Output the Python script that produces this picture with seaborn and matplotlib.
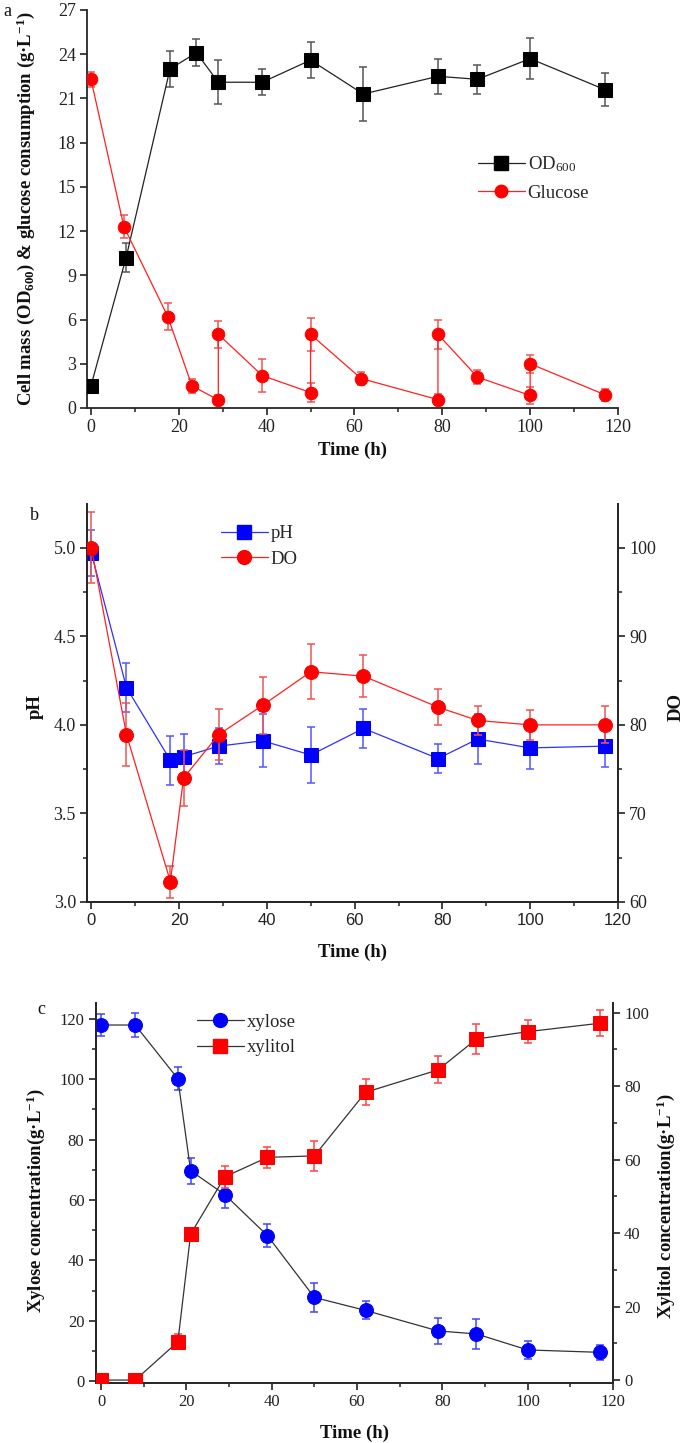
import numpy as np
import pandas as pd
import matplotlib
matplotlib.use("Agg")
import matplotlib.pyplot as plt
import seaborn as sns
from matplotlib.ticker import MultipleLocator
from matplotlib.lines import Line2D

# ---------------- data ----------------
# panel a
od_time = [0, 8, 18, 24, 29, 39, 50, 62, 79, 88, 100, 117]
od_val = [1.5, 10.2, 23.0, 24.1, 22.1, 22.1, 23.6, 21.3, 22.5, 22.3, 23.7, 21.6]
od_err = [0.2, 1.0, 1.2, 0.9, 1.5, 0.9, 1.2, 1.8, 1.2, 1.0, 1.4, 1.1]

glc_time = [0, 7.5, 17.5, 23, 29, 29, 39, 50, 50, 61.5, 79, 79, 88, 100, 100, 117]
glc_val = [22.3, 12.3, 6.2, 1.5, 0.55, 5.0, 2.2, 1.05, 5.0, 2.0, 0.57, 5.0, 2.1, 0.85, 3.0, 0.9]
glc_err = [0.5, 0.8, 0.9, 0.45, 0.3, 0.9, 1.1, 0.65, 1.1, 0.43, 0.4, 1.0, 0.45, 0.57, 0.6, 0.42]

# panel b
b_time = [0, 8, 18, 21, 29, 39, 50, 62, 79, 88, 100, 117]
ph_val = [4.97, 4.21, 3.80, 3.82, 3.88, 3.91, 3.83, 3.98, 3.81, 3.92, 3.87, 3.88]
ph_err = [0.13, 0.14, 0.14, 0.13, 0.10, 0.15, 0.16, 0.11, 0.08, 0.14, 0.12, 0.12]
do_val = [100, 78.9, 62.3, 74.0, 78.9, 82.2, 86.0, 85.5, 82.0, 80.5, 80.0, 80.0]
do_err = [4.0, 3.6, 1.8, 3.2, 2.9, 3.2, 3.1, 2.4, 2.0, 1.6, 1.7, 2.1]

# panel c
c_time = [0, 8, 18, 21, 29, 39, 50, 62, 79, 88, 100, 117]
xylose_val = [118, 118, 100.2, 69.7, 61.8, 48.2, 27.7, 23.4, 16.6, 15.6, 10.3, 9.5]
xylose_err = [3.6, 3.9, 3.9, 4.3, 4.4, 3.7, 4.7, 3.0, 4.4, 4.9, 3.0, 2.4]
xylitol_val = [0, 0, 10.4, 39.7, 55.3, 60.6, 61.0, 78.3, 84.4, 92.8, 94.8, 97.1]
xylitol_err = [0, 0, 2.0, 1.7, 3.0, 2.8, 4.0, 3.5, 3.7, 4.2, 3.1, 3.5]

# ---------------- style ----------------
sns.set_theme(style="ticks")
SERIF = ["Liberation Serif", "DejaVu Serif"]
plt.rcParams["font.family"] = SERIF
plt.rcParams["mathtext.fontset"] = "custom"
plt.rcParams["mathtext.rm"] = "Liberation Serif"
plt.rcParams["mathtext.bf"] = "Liberation Serif:bold"
plt.rcParams["mathtext.default"] = "regular"
plt.rcParams["axes.linewidth"] = 1.3
plt.rcParams["xtick.direction"] = "out"
plt.rcParams["ytick.direction"] = "out"

W, H = 685, 1443
fig = plt.figure(figsize=(W / 100, H / 100), dpi=100)


def rect(l, r, t, b):
    return [l / W, 1 - b / H, (r - l) / W, (b - t) / H]


def style_ticks(ax, size=12.5):
    ax.tick_params(axis="both", which="major", length=5, width=1.2, labelsize=size,
                   color="#222222", labelcolor="#222222", pad=3)
    ax.tick_params(axis="both", which="minor", length=3, width=1.1, color="#222222")


LBL = dict(fontsize=13.5, fontweight="bold", color="#111111")

# ================= panel a =================
axa = fig.add_axes(rect(87, 618, 10, 408))
axa.errorbar(od_time, od_val, yerr=od_err, fmt="none", ecolor="#555555",
             elinewidth=1.1, capsize=3, capthick=1.1, zorder=2)
axa.errorbar(glc_time, glc_val, yerr=glc_err, fmt="none", ecolor="#ee5555",
             elinewidth=1.1, capsize=3, capthick=1.1, zorder=2)
dfa_od = pd.DataFrame({"t": od_time, "v": od_val})
dfa_gl = pd.DataFrame({"t": glc_time, "v": glc_val})
sns.lineplot(data=dfa_od, x="t", y="v", ax=axa, sort=False, estimator=None,
             color="#222222", linewidth=0.9, marker="s", markersize=10.5,
             markeredgecolor="black", markerfacecolor="black", zorder=3)
sns.lineplot(data=dfa_gl, x="t", y="v", ax=axa, sort=False, estimator=None,
             color="#ff2020", linewidth=0.9, marker="o", markersize=9,
             markeredgecolor="red", markerfacecolor="red", zorder=3)
axa.set_xlim(-0.9, 120)
axa.set_ylim(0, 27)
axa.yaxis.set_major_locator(MultipleLocator(3))
axa.xaxis.set_major_locator(MultipleLocator(20))
axa.xaxis.set_minor_locator(MultipleLocator(10))
sns.despine(ax=axa)
style_ticks(axa, 13)
axa.set_xlabel("Time (h)", **LBL)
axa.set_ylabel("Cell mass (OD$_{600}$) & glucose consumption (g·L$^{-1}$)", **LBL)
axa.xaxis.set_label_coords(0.5, -0.085)
axa.yaxis.set_label_coords(-0.094, 0.5)
h_a = [Line2D([], [], color="#222222", lw=0.9, marker="s", ms=10.5, mfc="black", mec="black"),
       Line2D([], [], color="#ff2020", lw=0.9, marker="o", ms=9, mfc="red", mec="red")]
axa.legend(h_a, ["OD$_{600}$", "Glucose"], loc="center left",
           bbox_to_anchor=(478 / W, 1 - 178 / H), bbox_transform=fig.transFigure,
           frameon=False, fontsize=13.5, handlelength=2.5, handletextpad=0.15,
           borderpad=0, borderaxespad=0, labelspacing=0.55)
fig.text(3 / W, 1 - 12 / H, "a", fontsize=13, va="center", ha="left", color="#111111")

# ================= panel b =================
axb = fig.add_axes(rect(87, 618, 504, 902))
axb2 = axb.twinx()
axb.errorbar(b_time, ph_val, yerr=ph_err, fmt="none", ecolor="#5555ff",
             elinewidth=1.1, capsize=3, capthick=1.1, zorder=2)
axb2.errorbar(b_time, do_val, yerr=do_err, fmt="none", ecolor="#ee5555",
              elinewidth=1.1, capsize=3, capthick=1.1, zorder=2)
dfb = pd.DataFrame({"t": b_time, "ph": ph_val, "do": do_val})
sns.lineplot(data=dfb, x="t", y="ph", ax=axb, sort=False, estimator=None,
             color="#3030ff", linewidth=0.9, marker="s", markersize=9.5,
             markeredgecolor="blue", markerfacecolor="blue", zorder=3)
sns.lineplot(data=dfb, x="t", y="do", ax=axb2, sort=False, estimator=None,
             color="#ff2020", linewidth=0.9, marker="o", markersize=10,
             markeredgecolor="red", markerfacecolor="red", zorder=3)
axb.set_xlim(-1, 120)
axb.set_ylim(3.0, 5.247)
axb2.set_ylim(60, 104.94)
axb.yaxis.set_major_locator(MultipleLocator(0.5))
axb.yaxis.set_minor_locator(MultipleLocator(0.25))
axb.yaxis.set_major_formatter(matplotlib.ticker.FormatStrFormatter("%.1f"))
axb2.yaxis.set_major_locator(MultipleLocator(10))
axb2.yaxis.set_minor_locator(MultipleLocator(5))
axb.xaxis.set_major_locator(MultipleLocator(20))
axb.xaxis.set_minor_locator(MultipleLocator(10))
for ax in (axb, axb2):
    ax.spines["top"].set_visible(False)
    style_ticks(ax, 13)
for t in axb.get_xticklabels():
    t.set_fontfamily(["Liberation Sans", "DejaVu Sans"])
    t.set_fontsize(12)
axb.set_xlabel("Time (h)", **LBL)
axb.set_ylabel("pH", **LBL)
axb2.set_ylabel("DO", **LBL)
axb.xaxis.set_label_coords(0.5, -0.105)
axb.yaxis.set_label_coords(-0.081, 0.49)
axb2.yaxis.set_label_coords(1.094, 0.49)
h_b = [Line2D([], [], color="#3030ff", lw=0.9, marker="s", ms=9.5, mfc="blue", mec="blue"),
       Line2D([], [], color="#ff2020", lw=0.9, marker="o", ms=10, mfc="red", mec="red")]
axb2.legend(h_b, ["pH", "DO"], loc="center left",
            bbox_to_anchor=(221 / W, 1 - 546.5 / H), bbox_transform=fig.transFigure,
            frameon=False, fontsize=13.5, handlelength=2.5, handletextpad=0.15,
            borderpad=0, borderaxespad=0, labelspacing=0.45)
fig.text(30 / W, 1 - 515 / H, "b", fontsize=13, va="center", ha="left", color="#111111")

# ================= panel c =================
axc = fig.add_axes(rect(95.5, 613, 1003, 1383))
axc2 = axc.twinx()
axc.errorbar(c_time, xylose_val, yerr=xylose_err, fmt="none", ecolor="#4444ff",
             elinewidth=1.1, capsize=3, capthick=1.1, zorder=2)
axc2.errorbar(c_time, xylitol_val, yerr=xylitol_err, fmt="none", ecolor="#ff4444",
              elinewidth=1.1, capsize=3, capthick=1.1, zorder=2)
dfc = pd.DataFrame({"t": c_time, "xylose": xylose_val, "xylitol": xylitol_val})
sns.lineplot(data=dfc, x="t", y="xylose", ax=axc, sort=False, estimator=None,
             color="#333333", linewidth=0.9, marker="o", markersize=10,
             markeredgecolor="blue", markerfacecolor="blue", zorder=3)
sns.lineplot(data=dfc, x="t", y="xylitol", ax=axc2, sort=False, estimator=None,
             color="#333333", linewidth=0.9, marker="s", markersize=9.5,
             markeredgecolor="red", markerfacecolor="red", zorder=3)
axc.set_xlim(-1.3, 120)
axc.set_ylim(-0.66, 125.3)
axc2.set_ylim(-0.8, 102.6)
axc.yaxis.set_major_locator(MultipleLocator(20))
axc.yaxis.set_minor_locator(MultipleLocator(10))
axc2.yaxis.set_major_locator(MultipleLocator(20))
axc2.yaxis.set_minor_locator(MultipleLocator(10))
axc.xaxis.set_major_locator(MultipleLocator(20))
axc.xaxis.set_minor_locator(MultipleLocator(10))
for ax in (axc, axc2):
    ax.spines["top"].set_visible(False)
    style_ticks(ax, 12)
axc.set_xlabel("Time (h)", **LBL)
axc.set_ylabel("Xylose concentration(g·L$^{-1}$)", **LBL)
axc2.set_ylabel("Xylitol concentration(g·L$^{-1}$)", **LBL)
axc.xaxis.set_label_coords(0.5, -0.11)
axc.yaxis.set_label_coords(-0.094, 0.48)
axc2.yaxis.set_label_coords(1.081, 0.466)
h_c = [Line2D([], [], color="#333333", lw=0.9, marker="o", ms=10, mfc="blue", mec="blue"),
       Line2D([], [], color="#333333", lw=0.9, marker="s", ms=9.5, mfc="red", mec="red")]
axc2.legend(h_c, ["xylose", "xylitol"], loc="center left",
            bbox_to_anchor=(196.7 / W, 1 - 1035 / H), bbox_transform=fig.transFigure,
            frameon=False, fontsize=13.5, handlelength=2.5, handletextpad=0.15,
            borderpad=0, borderaxespad=0, labelspacing=0.45)
fig.text(37 / W, 1 - 1010 / H, "c", fontsize=13, va="center", ha="left", color="#111111")

fig.savefig("out.png", dpi=100)
